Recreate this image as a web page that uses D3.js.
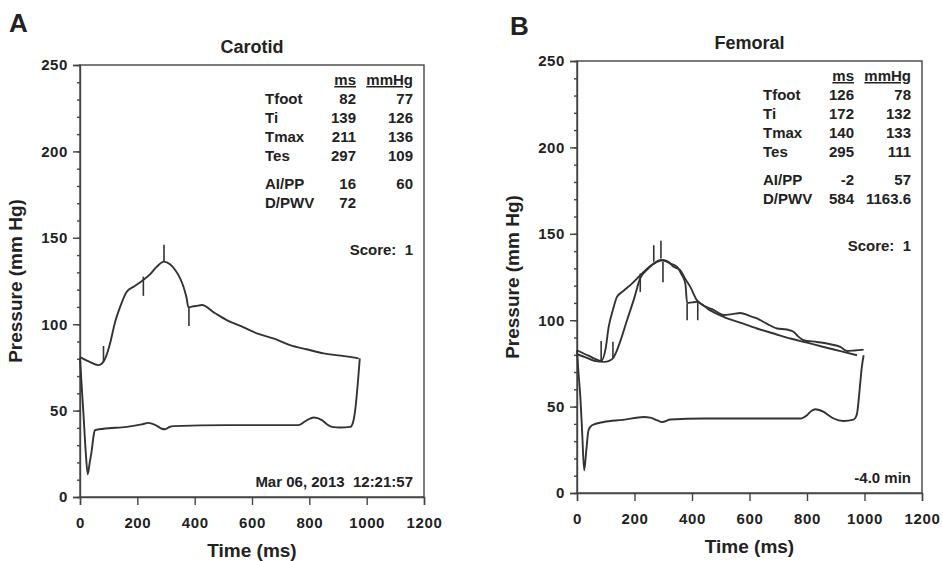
<!DOCTYPE html>
<html>
<head>
<meta charset="utf-8">
<script src="https://cdn.jsdelivr.net/npm/d3@7"></script>
<style>
  body { margin: 0; background: #fff; }
  svg text { font-family: "Liberation Sans", Arial, sans-serif; fill: #222; font-weight: bold; }
  .axis path, .axis line { stroke: #444; stroke-width: 1.4; }
  .trace { fill: none; stroke: #333; stroke-width: 1.9; stroke-linejoin: round; }
  .marker { stroke: #333; stroke-width: 1.6; }
</style>
</head>
<body>
<svg id="chart" width="943" height="561"></svg>
<script>
// axis ticks
var timeTicks = [0, 200, 400, 600, 800, 1000, 1200];
var pressureTicks = [0, 50, 100, 150, 200, 250];
var pressureMinor = d3.range(0, 251, 10);

// table
var tableLabels = ["Tfoot", "Ti", "Tmax", "Tes", "AI/PP", "D/PWV"];
var carotidMs = ["82", "139", "211", "297", "16", "72"];
var carotidMmHg = ["77", "126", "136", "109", "60", ""];
var femoralMs = ["126", "172", "140", "295", "-2", "584"];
var femoralMmHg = ["78", "132", "133", "111", "57", "1163.6"];

// panel A traces [time ms, pressure mmHg]
var carotidUpper = [[0,81],[30,78.5],[64,76.3],[78,77.5],[90,81],[105,89],[122,101],[140,110],[163,118.8],[190,122],[221,125.6],[245,129],[268,133.3],[293,136.2],[315,134.5],[332,131.4],[348,127],[361,121.7],[372,115],[378,109.8],[386,110],[405,110.5],[425,111.1],[470,106.5],[512,102.4],[560,99],[617,94.7],[680,91.5],[733,87.9],[790,85.5],[850,83.1],[910,81.8],[972,80.2]];
var carotidLower = [[0,80.2],[6,64],[12,48.3],[20,26],[27,13.2],[34,20],[41,27],[47,35],[52,38.7],[82,39.5],[163,40.6],[215,42],[239,42.9],[268,41.2],[285,39.5],[297,39.2],[312,40.5],[326,41],[512,41.6],[762,41.6],[792,44.5],[815,46],[844,44.5],[862,42],[879,40.6],[908,40.2],[943,40.6],[952,43],[960,50.3],[970,67.7],[976,80.2]];
// [time, from, to]
var carotidMarks = [[82,78,87.4],[221,116.4,127.5],[293,136,146],[380,99,110]];

// panel B traces
var femoralEarly = [[0,82.6],[40,79.5],[84,76.5],[100,84],[110,96],[125,106],[139,113.5],[162,117],[190,121],[220,126],[245,130],[267,132.8],[290,134.8],[310,134],[325,132.8],[348,130.9],[362,127],[377,121],[383,110],[400,110.3],[417,110.6],[460,106],[510,101.9],[570,98.4],[626,95.2],[690,92],[742,89.4],[800,87],[858,84.5],[920,82],[974,79.7]];
var femoralLate = [[0,80.3],[30,78.5],[60,76.5],[95,75.9],[112,76.5],[125,78],[139,82.6],[155,90],[174,100],[197,111.6],[220,124.3],[245,129.5],[278,133.8],[301,134.7],[320,133.5],[336,130.9],[359,129],[376,124],[394,119.3],[417,111.6],[440,108.5],[475,106],[510,103],[540,103.5],[568,104.2],[600,102.5],[626,101],[660,98],[696,95.2],[730,94.6],[753,93.3],[770,90.5],[788,88.4],[835,87.4],[881,86.1],[916,84.5],[939,82.2],[965,82.5],[997,83]];
var femoralLower = [[0,82.6],[5,70],[11.6,55.6],[18,35],[25,13.1],[32,24],[40,36.3],[52,39.2],[93,41.1],[160,42.3],[232,44],[255,43.6],[280,42],[296,41.1],[325,42.5],[440,43.1],[777,43.1],[800,45],[815,47.5],[829,48.5],[858,46.9],[875,45],[893,43.1],[927,41.7],[962,42.5],[970,44],[974,46],[985,63.3],[990,72],[997,79.7]];
var femoralMarks = [[84,76.6,88],[125,78,87.5],[220,116.4,127],[267,133.8,143.4],[292,135.7,146],[299,122,133.8],[383,100,109.7],[420,100,110.6]];

var svg = d3.select("#chart");

drawPanel({
    letter: "A", title: "Carotid",
    left: 80, right: 424, top: 65, bottom: 497,
    traces: [carotidUpper, carotidLower], marks: carotidMarks,
    ms: carotidMs, mmHg: carotidMmHg, footer: "Mar 06, 2013  12:21:57",
    letterX: 9, letterY: 32
});
drawPanel({
    letter: "B", title: "Femoral",
    left: 577, right: 922, top: 61, bottom: 493,
    traces: [femoralEarly, femoralLate, femoralLower], marks: femoralMarks,
    ms: femoralMs, mmHg: femoralMmHg, footer: "-4.0 min",
    letterX: 510, letterY: 35
});

function drawPanel(p) {
    var x = d3.scaleLinear().domain([0, 1200]).range([p.left, p.right]);
    var y = d3.scaleLinear().domain([0, 250]).range([p.bottom, p.top]);
    var g = svg.append("g");

    g.append("text")
        .attr("x", p.letterX).attr("y", p.letterY)
        .style("font-size", "26px")
        .text(p.letter);

    g.append("text")
        .attr("x", (p.left + p.right) / 2).attr("y", p.top - 12)
        .attr("text-anchor", "middle")
        .style("font-size", "18px")
        .text(p.title);

    // frame
    g.append("rect")
        .attr("x", p.left).attr("y", p.top)
        .attr("width", p.right - p.left).attr("height", p.bottom - p.top)
        .attr("fill", "none").attr("stroke", "#444").attr("stroke-width", 1.4);

    // minor y ticks
    g.append("g").attr("class", "axis")
        .attr("transform", "translate(" + p.left + ",0)")
        .call(d3.axisLeft(y).tickValues(pressureMinor).tickSize(3).tickFormat(""))
        .select(".domain").remove();

    var yAxis = g.append("g").attr("class", "axis")
        .attr("transform", "translate(" + p.left + ",0)")
        .call(d3.axisLeft(y).tickValues(pressureTicks).tickSize(7).tickPadding(5).tickFormat(d3.format("d")));
    yAxis.selectAll("text").style("font-size", "15px").style("letter-spacing", "0.6px");

    var xAxis = g.append("g").attr("class", "axis")
        .attr("transform", "translate(0," + p.bottom + ")")
        .call(d3.axisBottom(x).tickValues(timeTicks).tickSize(8).tickPadding(12).tickFormat(d3.format("d")));
    xAxis.selectAll("text").style("font-size", "15px").style("letter-spacing", "0.6px");

    g.append("text")
        .attr("transform", "translate(" + (p.left - 58) + "," + ((p.top + p.bottom) / 2) + ") rotate(-90)")
        .attr("text-anchor", "middle")
        .style("font-size", "19px")
        .text("Pressure (mm Hg)");

    g.append("text")
        .attr("x", (p.left + p.right) / 2).attr("y", p.bottom + 60)
        .attr("text-anchor", "middle")
        .style("font-size", "19px")
        .text("Time (ms)");

    // traces
    var line = d3.line()
        .x(function(d) { return x(d[0]); })
        .y(function(d) { return y(d[1]); })
        .curve(d3.curveMonotoneX);
    p.traces.forEach(function(t) {
        g.append("path").attr("class", "trace").attr("d", line(t));
    });

    g.selectAll("line.marker")
        .data(p.marks)
        .enter().append("line")
        .attr("class", "marker")
        .attr("x1", function(d) { return x(d[0]); })
        .attr("x2", function(d) { return x(d[0]); })
        .attr("y1", function(d) { return y(d[1]); })
        .attr("y2", function(d) { return y(d[2]); });

    // table of values
    var labX = p.right - 159, msX = p.right - 68, hgX = p.right - 11;
    var hdrY = p.top + 20;
    var t = g.append("g").style("font-size", "15px");
    t.append("text").attr("x", msX).attr("y", hdrY).attr("text-anchor", "end")
        .style("text-decoration", "underline").text("ms");
    t.append("text").attr("x", hgX).attr("y", hdrY).attr("text-anchor", "end")
        .style("text-decoration", "underline").text("mmHg");

    tableLabels.forEach(function(lab, i) {
        var ry = p.top + 38.5 + i * 19 + (i > 3 ? 9.5 : 0);
        t.append("text").attr("x", labX).attr("y", ry).text(lab);
        t.append("text").attr("x", msX).attr("y", ry).attr("text-anchor", "end").text(p.ms[i]);
        t.append("text").attr("x", hgX).attr("y", ry).attr("text-anchor", "end").text(p.mmHg[i]);
    });

    t.append("text").attr("x", hgX).attr("y", p.top + 190).attr("text-anchor", "end")
        .style("white-space", "pre").text("Score:  1");
    t.append("text").attr("x", hgX).attr("y", p.bottom - 10).attr("text-anchor", "end")
        .style("white-space", "pre").text(p.footer);
}
</script>
</body>
</html>
